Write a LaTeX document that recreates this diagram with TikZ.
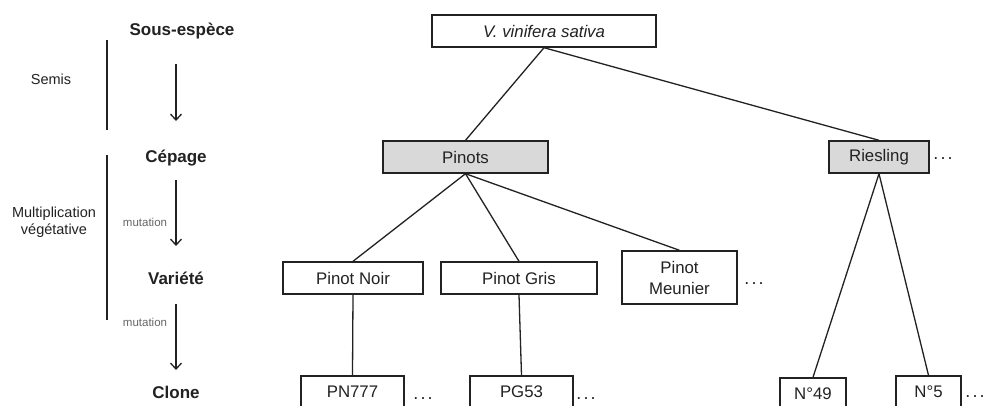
\documentclass[tikz,border=0pt]{standalone}
\usepackage{fontspec}
\setmainfont{Liberation Sans}
\usetikzlibrary{arrows.meta}
\definecolor{txt}{HTML}{222222}
\definecolor{boxfill}{HTML}{D9D9D9}
\newcommand{\mydots}{.\kern2.2pt.\kern2.2pt.}
\begin{document}
\begin{tikzpicture}[x=1pt,y=-1pt,
 box/.style={draw=txt, line width=1.4pt, minimum height=32pt, inner sep=0pt, font=\fontsize{16.8}{21}\selectfont, text=txt, fill=white},
 graybox/.style={box, fill=boxfill},
 level/.style={font=\bfseries\fontsize{17}{20}\selectfont, text=txt, inner sep=0pt},
 side/.style={font=\fontsize{14.5}{17}\selectfont, text=txt, align=center, inner sep=0pt},
 mut/.style={font=\fontsize{11.5}{13}\selectfont, text=black!60, inner sep=0pt},
 link/.style={draw=txt, line width=1.3pt},
 down/.style={link, -{Straight Barb[length=6pt,width=11pt]}},
 bar/.style={draw=txt, line width=1.4pt},
 more/.style={font=\fontsize{18}{19}\selectfont, text=txt, inner sep=0pt}]
\clip (0,0) rectangle (986,405);
\fill[white] (0,0) rectangle (986,405);
% left column
\node[level] (sous) at (182,31) {Sous-espèce};
\node[level] (cep) at (176,158) {Cépage};
\node[level] (var) at (176,278) {Variété};
\node[level] (clone) at (176,392) {Clone};
\coordinate (a1s) at (176,64);
\coordinate (a1e) at (176,121);
\coordinate (a2s) at (176,180);
\coordinate (a2e) at (176,246);
\coordinate (a3s) at (176,304);
\coordinate (a3e) at (176,370);
\draw[down] (a1s) -- (a1e);
\draw[down] (a2s) -- (a2e);
\draw[down] (a3s) -- (a3e);
\node[side] (semis) at (51,79) {Semis};
\node[side] (multi) at (54,222) {Multiplication\\végétative};
\node[mut] (mut1) at (145,222) {mutation};
\node[mut] (mut2) at (145,322) {mutation};
\coordinate (b1t) at (107,40);
\coordinate (b1b) at (107,130);
\coordinate (b2t) at (107,155);
\coordinate (b2b) at (107,320);
\draw[bar] (b1t) -- (b1b);
\draw[bar] (b2t) -- (b2b);
% tree
\node[box, minimum width=224pt] (vvs) at (544,31) {\itshape V. vinifera sativa};
\node[graybox, minimum width=165pt] (pinots) at (465.5,157) {Pinots};
\node[graybox, minimum width=100pt] (ries) at (879,157) {Riesling};
\node[box, minimum width=140pt] (pn) at (353,278) {Pinot Noir};
\node[box, minimum width=156pt] (pg) at (519,278) {Pinot Gris};
\node[box, minimum width=115pt, minimum height=53pt, align=center] (pm) at (679.5,277.5) {Pinot\\Meunier};
\node[box, minimum width=103pt] (pn777) at (352.5,392) {PN777};
\node[box, minimum width=103pt] (pg53) at (521.5,392) {PG53};
\node[box, minimum width=66pt] (n49) at (813,394) {N°49};
\node[box, minimum width=65pt] (n5) at (928.5,392) {N°5};
\draw[link] (vvs.south) -- (pinots.north);
\draw[link] (vvs.south) -- (ries.north);
\draw[link] (pinots.south) -- (pn.north);
\draw[link] (pinots.south) -- (pg.north);
\draw[link] (pinots.south) -- (pm.north);
\draw[link] (pn.south) -- (pn777.north);
\draw[link] (pg.south) -- (pg53.north);
\draw[link] (ries.south) -- (n49.north);
\draw[link] (ries.south) -- (n5.north);
\node[more] (d1) at (943,159) {\mydots};
\node[more] (d2) at (754,284) {\mydots};
\node[more] (d3) at (423,399) {\mydots};
\node[more] (d4) at (586,399) {\mydots};
\node[more] (d5) at (975,397) {\mydots};
\end{tikzpicture}
\end{document}
